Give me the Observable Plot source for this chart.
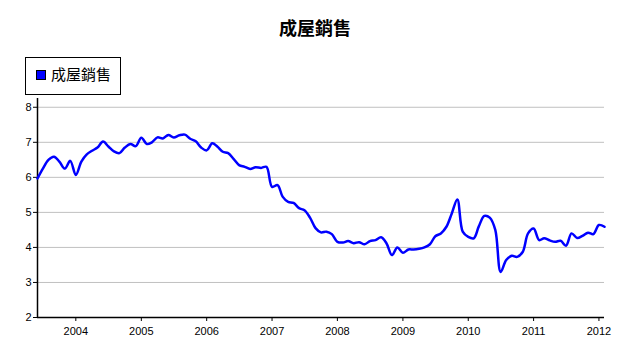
<!DOCTYPE html>
<html>
<head>
<meta charset="utf-8">
<script src="https://cdn.jsdelivr.net/npm/d3@7"></script>
<script src="https://cdn.jsdelivr.net/npm/@observablehq/plot@0.6"></script>
<style>
  html, body { margin: 0; padding: 0; background: #fff; }
  #wrap { position: relative; width: 630px; height: 343px; overflow: hidden; }
  #title { position: absolute; left: 0; top: 14px; width: 630px; text-align: center;
           font-family: "Noto Sans CJK TC", "Noto Sans CJK SC", sans-serif; font-weight: bold; font-size: 18px; line-height: 26px; color: #000; }
  #legend { position: absolute; left: 25px; top: 57px; width: 96px; height: 38px; box-sizing: border-box;
            border: 1px solid #000; background: #fff; font-family: "Noto Sans CJK TC", "Noto Sans CJK SC", sans-serif; font-size: 15px; color: #000; }
  #legend .sw { position: absolute; left: 10px; top: 12px; width: 8px; height: 8px; background: #0000ff; border: 1px solid #000; }
  #legend .lb { position: absolute; left: 25px; top: 6px; line-height: 20px; white-space: nowrap; }
  #chart { position: absolute; left: 0; top: 0; }
</style>
</head>
<body>
<div id="wrap">
  <div id="chart"></div>
  <div id="title"></div>
  <div id="legend"><div class="sw"></div><div class="lb"></div></div>
</div>
<script>
const titleText = "成屋銷售";
const seriesName = "成屋銷售";
const startMonth = "2003-06-01";
// monthly values, Jun 2003 .. Feb 2012
const values = [
  5.97, 6.25, 6.50, 6.59, 6.45, 6.25, 6.47,
  6.07, 6.45, 6.65, 6.76, 6.85, 7.02, 6.88, 6.74, 6.69, 6.85, 6.95, 6.89,
  7.13, 6.95, 7.00, 7.14, 7.11, 7.21, 7.14, 7.20, 7.22, 7.10, 7.03, 6.85,
  6.77, 6.97, 6.88, 6.73, 6.69, 6.52, 6.35, 6.30, 6.24, 6.29, 6.27, 6.30,
  5.73, 5.78, 5.45, 5.30, 5.27, 5.12, 5.06, 4.85, 4.55, 4.43, 4.45, 4.38,
  4.16, 4.14, 4.18, 4.12, 4.15, 4.09, 4.18, 4.21, 4.29, 4.12, 3.78, 4.00,
  3.85, 3.94, 3.94, 3.96, 4.00, 4.09, 4.32, 4.40, 4.59, 4.97, 5.37, 4.45,
  4.30, 4.26, 4.60, 4.90, 4.85, 4.50, 3.30, 3.64, 3.76, 3.73, 3.87, 4.40,
  4.54, 4.21, 4.26, 4.20, 4.16, 4.19, 4.05, 4.40, 4.27, 4.33, 4.42, 4.38,
  4.64, 4.59
];
const yTicks = [2, 3, 4, 5, 6, 7, 8];
const xTickYears = [2004, 2005, 2006, 2007, 2008, 2009, 2010, 2011, 2012];

const start = new Date(startMonth + "T00:00:00Z");
const data = values.map((v, i) => ({ date: d3.utcMonth.offset(start, i), value: v }));
const end = data[data.length - 1].date;
const xTicks = xTickYears.map(y => new Date(Date.UTC(y, 0, 1)));

document.getElementById("title").textContent = titleText;
document.querySelector("#legend .lb").textContent = seriesName;

const chart = Plot.plot({
  width: 630,
  height: 343,
  marginLeft: 37,
  marginRight: 26,
  marginTop: 98,
  marginBottom: 26,
  style: { fontFamily: "'Liberation Sans', Arial, sans-serif", fontSize: "11px", color: "#000", background: "#fff" },
  x: { type: "utc", domain: [start, end] },
  y: { domain: [2, 8.25] },
  marks: [
    Plot.gridY(yTicks.filter(t => t > 2), { stroke: "#c0c0c0", strokeOpacity: 1, strokeWidth: 1 }),
    Plot.axisY({ ticks: yTicks, tickSize: 4, tickPadding: 2, label: null, tickFormat: d => String(d) }),
    Plot.axisX({ ticks: xTicks, tickSize: 4, tickPadding: 6, label: null, tickFormat: d3.utcFormat("%Y") }),
    Plot.ruleX([start], { stroke: "#000", strokeWidth: 1.5 }),
    Plot.ruleY([2], { stroke: "#000", strokeWidth: 1.5 }),
    Plot.line(data, { x: "date", y: "value", stroke: "#0000ff", strokeWidth: 2.5, curve: "catmull-rom" })
  ]
});
document.getElementById("chart").appendChild(chart);
</script>
</body>
</html>
